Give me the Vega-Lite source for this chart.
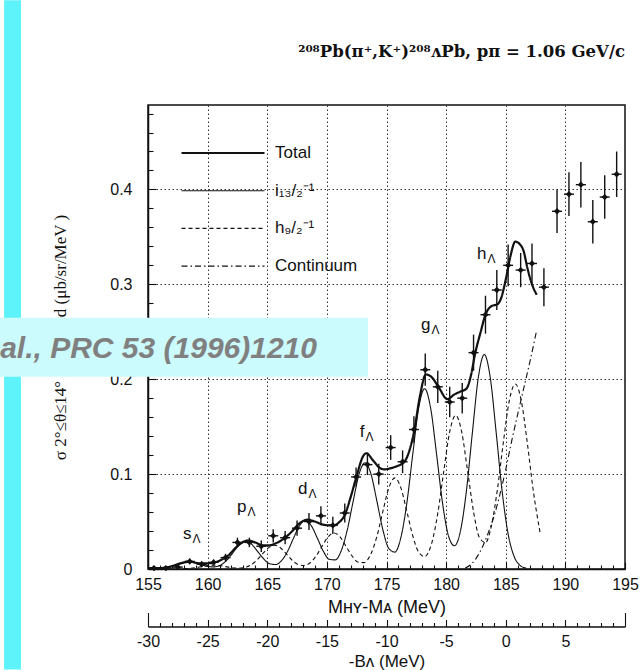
{
  "$schema": "https://vega.github.io/schema/vega-lite/v6.json",
  "width": 477,
  "height": 464,
  "autosize": "none",
  "padding": {"left": 148, "top": 105, "right": 18, "bottom": 101},
  "background": "white",
  "title": {
    "text": "²⁰⁸Pb(π⁺,K⁺)²⁰⁸ᴧPb, pπ = 1.06 GeV/c",
    "anchor": "end",
    "frame": "group",
    "font": "DejaVu Serif",
    "fontSize": 16.5,
    "fontWeight": "bold",
    "color": "#111",
    "baseline": "bottom",
    "offset": -76
  },
  "config": {
    "view": {"stroke": "#111", "strokeWidth": 1.5},
    "axis": {
      "domainColor": "#111",
      "domainWidth": 1.5,
      "tickColor": "#111",
      "tickWidth": 1.1,
      "labelColor": "#111",
      "titleColor": "#111",
      "labelFont": "Liberation Sans",
      "labelFontSize": 16,
      "labelFlush": false,
      "labelOverlap": false,
      "titleFont": "Liberation Sans",
      "titleFontSize": 17,
      "titleFontWeight": "normal",
      "gridColor": "#333",
      "gridDash": [1.5, 2.5],
      "gridWidth": 1
    }
  },
  "datasets": {
    "curves": [
      {"curve": "T", "M": 155, "y": 0.001}, {"curve": "T", "M": 156, "y": 0.001}, {"curve": "T", "M": 157, "y": 0.003}, {"curve": "T", "M": 157.7, "y": 0.006},
      {"curve": "T", "M": 158.5, "y": 0.008}, {"curve": "T", "M": 159.3, "y": 0.006}, {"curve": "T", "M": 160, "y": 0.006}, {"curve": "T", "M": 160.6, "y": 0.007},
      {"curve": "T", "M": 161.2, "y": 0.010}, {"curve": "T", "M": 161.8, "y": 0.015}, {"curve": "T", "M": 162.4, "y": 0.023}, {"curve": "T", "M": 162.9, "y": 0.028},
      {"curve": "T", "M": 163.4, "y": 0.030}, {"curve": "T", "M": 164, "y": 0.028}, {"curve": "T", "M": 164.6, "y": 0.025}, {"curve": "T", "M": 165.2, "y": 0.025},
      {"curve": "T", "M": 165.7, "y": 0.027}, {"curve": "T", "M": 166.5, "y": 0.033}, {"curve": "T", "M": 167.1, "y": 0.040}, {"curve": "T", "M": 167.6, "y": 0.047},
      {"curve": "T", "M": 168.4, "y": 0.052}, {"curve": "T", "M": 169, "y": 0.050}, {"curve": "T", "M": 169.6, "y": 0.047}, {"curve": "T", "M": 170.2, "y": 0.046},
      {"curve": "T", "M": 170.6, "y": 0.046}, {"curve": "T", "M": 171, "y": 0.049}, {"curve": "T", "M": 171.5, "y": 0.057}, {"curve": "T", "M": 172, "y": 0.076},
      {"curve": "T", "M": 172.5, "y": 0.098}, {"curve": "T", "M": 173, "y": 0.118}, {"curve": "T", "M": 173.3, "y": 0.122}, {"curve": "T", "M": 173.9, "y": 0.114},
      {"curve": "T", "M": 174.4, "y": 0.107}, {"curve": "T", "M": 174.8, "y": 0.105}, {"curve": "T", "M": 175.3, "y": 0.106}, {"curve": "T", "M": 175.8, "y": 0.108},
      {"curve": "T", "M": 176.5, "y": 0.113}, {"curve": "T", "M": 176.9, "y": 0.124}, {"curve": "T", "M": 177.3, "y": 0.144}, {"curve": "T", "M": 177.8, "y": 0.182},
      {"curve": "T", "M": 178.3, "y": 0.205}, {"curve": "T", "M": 178.8, "y": 0.202}, {"curve": "T", "M": 179.4, "y": 0.191}, {"curve": "T", "M": 180.1, "y": 0.179},
      {"curve": "T", "M": 180.7, "y": 0.184}, {"curve": "T", "M": 181.2, "y": 0.187}, {"curve": "T", "M": 181.7, "y": 0.190}, {"curve": "T", "M": 182.1, "y": 0.205},
      {"curve": "T", "M": 182.4, "y": 0.225}, {"curve": "T", "M": 182.9, "y": 0.250}, {"curve": "T", "M": 183.3, "y": 0.268}, {"curve": "T", "M": 183.8, "y": 0.277},
      {"curve": "T", "M": 184.3, "y": 0.279}, {"curve": "T", "M": 184.6, "y": 0.285}, {"curve": "T", "M": 185, "y": 0.305}, {"curve": "T", "M": 185.4, "y": 0.330},
      {"curve": "T", "M": 185.8, "y": 0.345}, {"curve": "T", "M": 186.2, "y": 0.342}, {"curve": "T", "M": 186.5, "y": 0.335}, {"curve": "T", "M": 186.8, "y": 0.318},
      {"curve": "T", "M": 187.2, "y": 0.300}, {"curve": "T", "M": 187.6, "y": 0.289},

      {"curve": "i", "M": 155, "y": 0.0001}, {"curve": "i", "M": 155.5, "y": 0.0002}, {"curve": "i", "M": 156, "y": 0.0004}, {"curve": "i", "M": 156.5, "y": 0.0011},
      {"curve": "i", "M": 157, "y": 0.0025}, {"curve": "i", "M": 157.5, "y": 0.0044}, {"curve": "i", "M": 158, "y": 0.0063}, {"curve": "i", "M": 158.5, "y": 0.007},
      {"curve": "i", "M": 159, "y": 0.0063}, {"curve": "i", "M": 159.5, "y": 0.0045}, {"curve": "i", "M": 160, "y": 0.0028}, {"curve": "i", "M": 160.5, "y": 0.0022},
      {"curve": "i", "M": 161, "y": 0.0036}, {"curve": "i", "M": 161.5, "y": 0.0079}, {"curve": "i", "M": 162, "y": 0.0151}, {"curve": "i", "M": 162.5, "y": 0.0232},
      {"curve": "i", "M": 163.2, "y": 0.029}, {"curve": "i", "M": 163.7, "y": 0.0259}, {"curve": "i", "M": 164.2, "y": 0.0184}, {"curve": "i", "M": 164.7, "y": 0.0107},
      {"curve": "i", "M": 165.2, "y": 0.0056}, {"curve": "i", "M": 165.7, "y": 0.0047}, {"curve": "i", "M": 166.2, "y": 0.0088}, {"curve": "i", "M": 166.7, "y": 0.0185},
      {"curve": "i", "M": 167.2, "y": 0.0324}, {"curve": "i", "M": 167.7, "y": 0.0455}, {"curve": "i", "M": 168.2, "y": 0.051}, {"curve": "i", "M": 168.7, "y": 0.0455},
      {"curve": "i", "M": 169.2, "y": 0.0325}, {"curve": "i", "M": 169.7, "y": 0.0188}, {"curve": "i", "M": 170.2, "y": 0.0102}, {"curve": "i", "M": 170.7, "y": 0.0096},
      {"curve": "i", "M": 171.2, "y": 0.0191}, {"curve": "i", "M": 171.7, "y": 0.0406}, {"curve": "i", "M": 172.2, "y": 0.0711}, {"curve": "i", "M": 172.7, "y": 0.1},
      {"curve": "i", "M": 173.2, "y": 0.112}, {"curve": "i", "M": 173.7, "y": 0.1}, {"curve": "i", "M": 174.2, "y": 0.0712}, {"curve": "i", "M": 174.7, "y": 0.0411},
      {"curve": "i", "M": 175.2, "y": 0.0215}, {"curve": "i", "M": 175.7, "y": 0.0178}, {"curve": "i", "M": 176.2, "y": 0.0329}, {"curve": "i", "M": 176.7, "y": 0.0689},
      {"curve": "i", "M": 177.2, "y": 0.1207}, {"curve": "i", "M": 177.7, "y": 0.1697}, {"curve": "i", "M": 178.2, "y": 0.19}, {"curve": "i", "M": 178.7, "y": 0.1697},
      {"curve": "i", "M": 179.2, "y": 0.1209}, {"curve": "i", "M": 179.7, "y": 0.0694}, {"curve": "i", "M": 180.2, "y": 0.0348}, {"curve": "i", "M": 180.7, "y": 0.0245},
      {"curve": "i", "M": 181.2, "y": 0.040}, {"curve": "i", "M": 181.7, "y": 0.0822}, {"curve": "i", "M": 182.2, "y": 0.1435}, {"curve": "i", "M": 182.7, "y": 0.2018},
      {"curve": "i", "M": 183.2, "y": 0.226}, {"curve": "i", "M": 183.7, "y": 0.2018}, {"curve": "i", "M": 184.2, "y": 0.1435}, {"curve": "i", "M": 184.7, "y": 0.0815},
      {"curve": "i", "M": 185.2, "y": 0.0368}, {"curve": "i", "M": 185.7, "y": 0.0133}, {"curve": "i", "M": 186.2, "y": 0.0038}, {"curve": "i", "M": 186.7, "y": 0.0009},

      {"curve": "h", "M": 158, "y": 0.0002}, {"curve": "h", "M": 158.5, "y": 0.0006}, {"curve": "h", "M": 159, "y": 0.0014}, {"curve": "h", "M": 159.5, "y": 0.0025},
      {"curve": "h", "M": 160, "y": 0.0036}, {"curve": "h", "M": 160.5, "y": 0.004}, {"curve": "h", "M": 161, "y": 0.0036}, {"curve": "h", "M": 161.5, "y": 0.0025},
      {"curve": "h", "M": 162, "y": 0.0015}, {"curve": "h", "M": 162.5, "y": 0.001}, {"curve": "h", "M": 163, "y": 0.0014}, {"curve": "h", "M": 163.6, "y": 0.0041},
      {"curve": "h", "M": 164.1, "y": 0.009}, {"curve": "h", "M": 164.6, "y": 0.0159}, {"curve": "h", "M": 165.1, "y": 0.0223}, {"curve": "h", "M": 165.6, "y": 0.025},
      {"curve": "h", "M": 166.1, "y": 0.0224}, {"curve": "h", "M": 166.6, "y": 0.0159}, {"curve": "h", "M": 167.1, "y": 0.0091}, {"curve": "h", "M": 167.6, "y": 0.0047},
      {"curve": "h", "M": 168.1, "y": 0.0037}, {"curve": "h", "M": 168.6, "y": 0.0066}, {"curve": "h", "M": 169.1, "y": 0.0138}, {"curve": "h", "M": 169.6, "y": 0.0241},
      {"curve": "h", "M": 170.1, "y": 0.0339}, {"curve": "h", "M": 170.6, "y": 0.038}, {"curve": "h", "M": 171.1, "y": 0.0339}, {"curve": "h", "M": 171.6, "y": 0.0241},
      {"curve": "h", "M": 172.1, "y": 0.014}, {"curve": "h", "M": 172.6, "y": 0.0074}, {"curve": "h", "M": 173.1, "y": 0.0067}, {"curve": "h", "M": 173.7, "y": 0.0161},
      {"curve": "h", "M": 174.2, "y": 0.0346}, {"curve": "h", "M": 174.7, "y": 0.061}, {"curve": "h", "M": 175.2, "y": 0.0857}, {"curve": "h", "M": 175.7, "y": 0.096},
      {"curve": "h", "M": 176.2, "y": 0.0857}, {"curve": "h", "M": 176.7, "y": 0.0611}, {"curve": "h", "M": 177.2, "y": 0.0351}, {"curve": "h", "M": 177.7, "y": 0.0177},
      {"curve": "h", "M": 178.2, "y": 0.0131}, {"curve": "h", "M": 178.8, "y": 0.0276}, {"curve": "h", "M": 179.3, "y": 0.0587}, {"curve": "h", "M": 179.8, "y": 0.1029},
      {"curve": "h", "M": 180.3, "y": 0.1447}, {"curve": "h", "M": 180.8, "y": 0.162}, {"curve": "h", "M": 181.3, "y": 0.1448}, {"curve": "h", "M": 181.8, "y": 0.1034},
      {"curve": "h", "M": 182.3, "y": 0.0603}, {"curve": "h", "M": 182.8, "y": 0.0329}, {"curve": "h", "M": 183.3, "y": 0.0279}, {"curve": "h", "M": 183.8, "y": 0.0457},
      {"curve": "h", "M": 184.3, "y": 0.0839}, {"curve": "h", "M": 184.8, "y": 0.1336}, {"curve": "h", "M": 185.3, "y": 0.1775}, {"curve": "h", "M": 185.8, "y": 0.195},
      {"curve": "h", "M": 186.3, "y": 0.1775}, {"curve": "h", "M": 186.8, "y": 0.1336}, {"curve": "h", "M": 187.3, "y": 0.0833}, {"curve": "h", "M": 187.9, "y": 0.0368},

      {"curve": "C", "M": 181.6, "y": 0.001}, {"curve": "C", "M": 182, "y": 0.004}, {"curve": "C", "M": 182.5, "y": 0.011}, {"curve": "C", "M": 183, "y": 0.022},
      {"curve": "C", "M": 183.5, "y": 0.037}, {"curve": "C", "M": 184, "y": 0.055}, {"curve": "C", "M": 184.5, "y": 0.078}, {"curve": "C", "M": 185, "y": 0.105},
      {"curve": "C", "M": 185.5, "y": 0.135}, {"curve": "C", "M": 186, "y": 0.163}, {"curve": "C", "M": 186.5, "y": 0.19}, {"curve": "C", "M": 187, "y": 0.217},
      {"curve": "C", "M": 187.6, "y": 0.252}
    ],
    "points": [
      {"M": 155.5, "y": 0.001, "lo": -0.001, "hi": 0.003}, {"M": 156.5, "y": 0.001, "lo": -0.001, "hi": 0.003},
      {"M": 157.5, "y": 0.002, "lo": 0.0, "hi": 0.004}, {"M": 158.5, "y": 0.008, "lo": 0.005, "hi": 0.011},
      {"M": 159.5, "y": 0.005, "lo": 0.002, "hi": 0.008}, {"M": 160.5, "y": 0.007, "lo": 0.004, "hi": 0.010},
      {"M": 161.5, "y": 0.012, "lo": 0.008, "hi": 0.016}, {"M": 162.5, "y": 0.028, "lo": 0.023, "hi": 0.033},
      {"M": 163.5, "y": 0.028, "lo": 0.023, "hi": 0.033}, {"M": 164.5, "y": 0.024, "lo": 0.018, "hi": 0.030},
      {"M": 165.5, "y": 0.035, "lo": 0.028, "hi": 0.042}, {"M": 166.5, "y": 0.033, "lo": 0.026, "hi": 0.040},
      {"M": 167.5, "y": 0.043, "lo": 0.035, "hi": 0.051}, {"M": 168.5, "y": 0.050, "lo": 0.041, "hi": 0.059},
      {"M": 169.5, "y": 0.056, "lo": 0.046, "hi": 0.066}, {"M": 170.5, "y": 0.046, "lo": 0.037, "hi": 0.055},
      {"M": 171.5, "y": 0.059, "lo": 0.049, "hi": 0.069}, {"M": 172.45, "y": 0.097, "lo": 0.087, "hi": 0.107},
      {"M": 173.4, "y": 0.110, "lo": 0.099, "hi": 0.121}, {"M": 174.35, "y": 0.100, "lo": 0.089, "hi": 0.111},
      {"M": 175.35, "y": 0.128, "lo": 0.115, "hi": 0.141}, {"M": 176.35, "y": 0.113, "lo": 0.101, "hi": 0.125},
      {"M": 177.3, "y": 0.147, "lo": 0.133, "hi": 0.161}, {"M": 178.25, "y": 0.210, "lo": 0.193, "hi": 0.227},
      {"M": 179.3, "y": 0.192, "lo": 0.175, "hi": 0.209}, {"M": 180.3, "y": 0.176, "lo": 0.160, "hi": 0.192},
      {"M": 181.35, "y": 0.180, "lo": 0.164, "hi": 0.196}, {"M": 182.3, "y": 0.228, "lo": 0.209, "hi": 0.247},
      {"M": 183.3, "y": 0.268, "lo": 0.248, "hi": 0.288}, {"M": 184.25, "y": 0.294, "lo": 0.273, "hi": 0.315},
      {"M": 185.2, "y": 0.320, "lo": 0.298, "hi": 0.342}, {"M": 186.25, "y": 0.315, "lo": 0.297, "hi": 0.333},
      {"M": 187.2, "y": 0.322, "lo": 0.301, "hi": 0.343}, {"M": 188.2, "y": 0.297, "lo": 0.277, "hi": 0.317},
      {"M": 189.3, "y": 0.377, "lo": 0.354, "hi": 0.400}, {"M": 190.3, "y": 0.395, "lo": 0.372, "hi": 0.418},
      {"M": 191.3, "y": 0.405, "lo": 0.381, "hi": 0.429}, {"M": 192.3, "y": 0.366, "lo": 0.343, "hi": 0.389},
      {"M": 193.3, "y": 0.392, "lo": 0.369, "hi": 0.415}, {"M": 194.3, "y": 0.416, "lo": 0.392, "hi": 0.440}
    ],
    "labels": [
      {"M": 158.65, "y": 0.032, "t": "s"},
      {"M": 163.26, "y": 0.0605, "t": "p"},
      {"M": 168.38, "y": 0.0795, "t": "d"},
      {"M": 173.16, "y": 0.1395, "t": "f"},
      {"M": 178.69, "y": 0.252, "t": "g"},
      {"M": 183.39, "y": 0.327, "t": "h"}
    ]
  },
  "layer": [
    {
      "data": {"name": "curves"},
      "mark": {"type": "line", "interpolate": "monotone", "color": "#111"},
      "encoding": {
        "x": {
          "field": "M", "type": "quantitative",
          "scale": {"domain": [155, 195], "nice": false, "zero": false},
          "axis": {
            "orient": "bottom",
            "title": "Mʜʏ-Mᴀ  (MeV)",
            "titleFontSize": 18,
            "values": [155,156,157,158,159,160,161,162,163,164,165,166,167,168,169,170,171,172,173,174,175,176,177,178,179,180,181,182,183,184,185,186,187,188,189,190,191,192,193,194,195],
            "labelExpr": "datum.value % 5 == 0 ? '' + datum.value : ''",
            "tickSize": {"condition": {"test": "datum.value % 5 == 0", "value": -7}, "value": -4},
            "grid": true,
            "gridOpacity": {"condition": {"test": "datum.value % 5 == 0 && datum.value > 155 && datum.value < 195", "value": 1}, "value": 0},
            "labelPadding": 14.5,
            "titlePadding": 3
          }
        },
        "y": {
          "field": "y", "type": "quantitative",
          "scale": {"domain": [0, 0.489], "nice": false, "zero": false},
          "axis": {
            "orient": "left",
            "title": "σ 2°≤θ≤14° integrated (μb/sr/MeV )",
            "titleFont": "Liberation Serif",
            "titleFontSize": 17,
            "values": [0,0.02,0.04,0.06,0.08,0.1,0.12,0.14,0.16,0.18,0.2,0.22,0.24,0.26,0.28,0.3,0.32,0.34,0.36,0.38,0.4,0.42,0.44,0.46,0.48],
            "labelExpr": "abs(datum.value*10 - round(datum.value*10)) < 0.001 ? (datum.value == 0 ? '0' : format(datum.value, '.1f')) : ''",
            "tickSize": {"condition": {"test": "abs(datum.value*10 - round(datum.value*10)) < 0.001", "value": -8}, "value": -5},
            "grid": true,
            "gridOpacity": {"condition": {"test": "abs(datum.value*10 - round(datum.value*10)) < 0.001 && datum.value > 0", "value": 1}, "value": 0},
            "labelPadding": 24,
            "titlePadding": 40
          }
        },
        "strokeDash": {
          "field": "curve", "type": "nominal",
          "scale": {"domain": ["T", "i", "h", "C"], "range": [[1, 0], [1, 0], [4, 3], [6, 3, 1.5, 3]]},
          "legend": {
            "title": null, "orient": "none", "legendX": 32, "legendY": 38,
            "symbolType": "stroke", "symbolSize": 6889, "symbolStrokeColor": "#111",
            "clipHeight": 20, "rowPadding": 17.7, "padding": 0, "labelOffset": 9,
            "labelFont": "Liberation Sans", "labelFontSize": 17, "labelColor": "#111",
            "labelExpr": "datum.label == 'T' ? 'Total' : datum.label == 'i' ? 'i₁₃/₂⁻¹' : datum.label == 'h' ? 'h₉/₂⁻¹' : 'Continuum'"
          }
        },
        "strokeWidth": {
          "field": "curve", "type": "nominal",
          "scale": {"type": "ordinal", "domain": ["T", "i", "h", "C"], "range": [2.2, 1.1, 1.1, 1.1]},
          "legend": {
            "title": null, "orient": "none", "legendX": 32, "legendY": 38,
            "symbolType": "stroke", "symbolSize": 6889, "symbolStrokeColor": "#111",
            "clipHeight": 20, "rowPadding": 17.7, "padding": 0, "labelOffset": 9,
            "labelFont": "Liberation Sans", "labelFontSize": 17, "labelColor": "#111",
            "labelExpr": "datum.label == 'T' ? 'Total' : datum.label == 'i' ? 'i₁₃/₂⁻¹' : datum.label == 'h' ? 'h₉/₂⁻¹' : 'Continuum'"
          }
        }
      }
    },
    {
      "data": {"name": "points"},
      "mark": {"type": "rule", "color": "#111", "strokeWidth": 1.4},
      "encoding": {
        "x": {"field": "M", "type": "quantitative", "axis": null},
        "y": {"field": "lo", "type": "quantitative", "axis": null},
        "y2": {"field": "hi"}
      }
    },
    {
      "data": {"name": "points"},
      "transform": [{"calculate": "datum.M - 0.42", "as": "Mlo"}, {"calculate": "datum.M + 0.42", "as": "Mhi"}],
      "mark": {"type": "rule", "color": "#111", "strokeWidth": 1.4},
      "encoding": {
        "x": {"field": "Mlo", "type": "quantitative", "axis": null},
        "x2": {"field": "Mhi"},
        "y": {"field": "y", "type": "quantitative", "axis": null}
      }
    },
    {
      "data": {"name": "points"},
      "mark": {"type": "point", "shape": "diamond", "filled": true, "color": "#111", "size": 40, "opacity": 1},
      "encoding": {
        "x": {"field": "M", "type": "quantitative", "axis": null},
        "y": {"field": "y", "type": "quantitative", "axis": null}
      }
    },
    {
      "data": {"name": "labels"},
      "mark": {"type": "text", "align": "right", "baseline": "alphabetic", "font": "Liberation Sans", "fontSize": 17, "color": "#111"},
      "encoding": {
        "x": {"field": "M", "type": "quantitative", "axis": null},
        "y": {"field": "y", "type": "quantitative", "axis": null},
        "text": {"field": "t"}
      }
    },
    {
      "data": {"name": "labels"},
      "mark": {"type": "text", "align": "left", "baseline": "alphabetic", "font": "Liberation Sans", "fontSize": 12, "color": "#111", "dx": 1, "dy": 4},
      "encoding": {
        "x": {"field": "M", "type": "quantitative", "axis": null},
        "y": {"field": "y", "type": "quantitative", "axis": null},
        "text": {"value": "Λ"}
      }
    },
    {
      "data": {"values": [{"M": 155}, {"M": 195}]},
      "mark": {"type": "point", "opacity": 0},
      "encoding": {
        "x": {
          "field": "M", "type": "quantitative",
          "axis": {
            "orient": "bottom",
            "offset": 57.5,
            "title": "-Bᴧ  (MeV)",
            "values": [155,156,157,158,159,160,161,162,163,164,165,166,167,168,169,170,171,172,173,174,175,176,177,178,179,180,181,182,183,184,185,186,187,188,189,190,191,192,193,194,195],
            "labelExpr": "datum.value % 5 == 0 && datum.value != 195 ? '' + (datum.value - 185) : ''",
            "tickSize": {"condition": [{"test": "datum.value == 155 || datum.value == 195", "value": -14}, {"test": "datum.value % 5 == 0", "value": -7}], "value": -4},
            "labelPadding": {"condition": {"test": "datum.value == 155", "value": 21}, "value": 14},
            "grid": false,
            "titlePadding": 1
          }
        }
      }
    },
    {
      "data": {"values": [{"x1": 142.93, "x2": 144.35, "y1": 0.5995, "y2": -0.106}]},
      "mark": {"type": "rect", "color": "#5ef3fb"},
      "encoding": {
        "x": {"field": "x1", "type": "quantitative", "axis": null},
        "x2": {"field": "x2"},
        "y": {"field": "y1", "type": "quantitative", "axis": null},
        "y2": {"field": "y2"}
      }
    },
    {
      "data": {"values": [{"x1": 142.0, "x2": 173.45, "y1": 0.2647, "y2": 0.2026}]},
      "mark": {"type": "rect", "color": "#ccfbfd"},
      "encoding": {
        "x": {"field": "x1", "type": "quantitative", "axis": null},
        "x2": {"field": "x2"},
        "y": {"field": "y1", "type": "quantitative", "axis": null},
        "y2": {"field": "y2"}
      }
    },
    {
      "data": {"values": [{"x": 142.6, "y": 0.2226, "t": "al., PRC 53 (1996)1210"}]},
      "mark": {"type": "text", "align": "left", "baseline": "alphabetic", "font": "Liberation Sans", "fontSize": 30, "fontWeight": "bold", "fontStyle": "italic", "color": "#808080"},
      "encoding": {
        "x": {"field": "x", "type": "quantitative", "axis": null},
        "y": {"field": "y", "type": "quantitative", "axis": null},
        "text": {"field": "t"}
      }
    }
  ],
  "resolve": {"axis": {"x": "independent", "y": "independent"}}
}
